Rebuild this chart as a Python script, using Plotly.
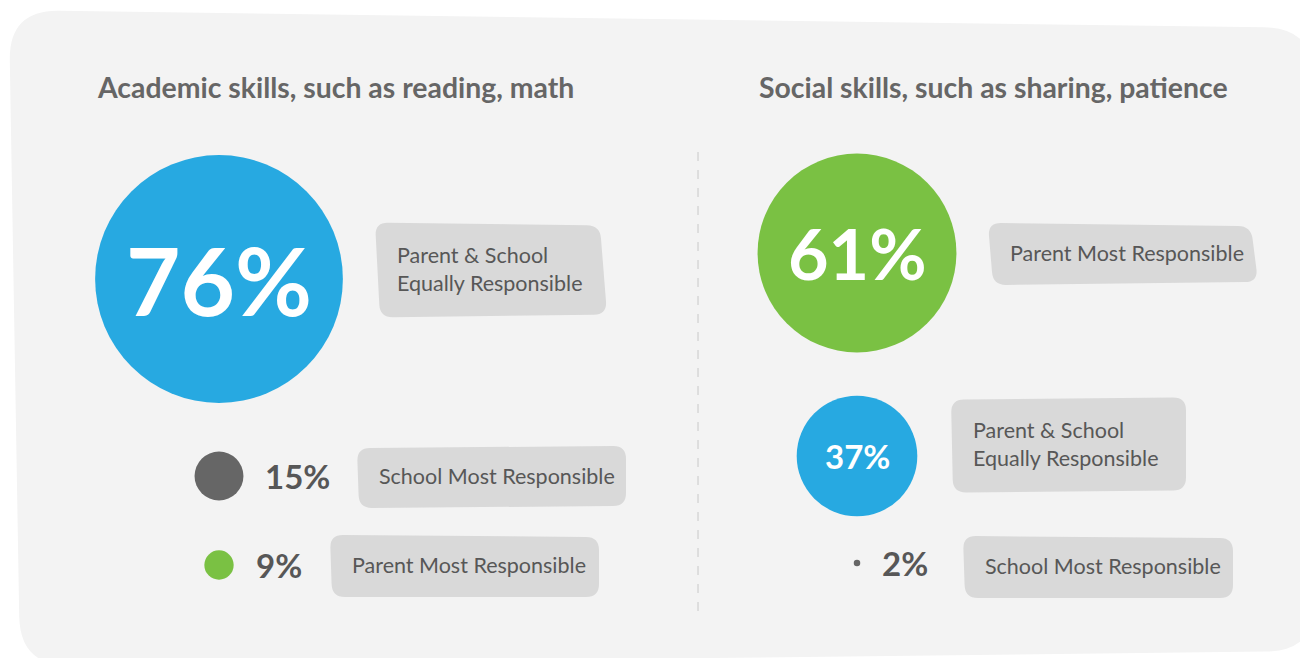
"""Two bubble panels: who is responsible for teaching academic vs social skills."""

import plotly.graph_objects as go

# ── Data ────────────────────────────────────────────────────────────────────
PANEL_TITLES = [
    'Academic skills, such as reading, math',
    'Social skills, such as sharing, patience',
]

academic_labels = [
    'Parent & School<br>Equally Responsible',
    'School Most Responsible',
    'Parent Most Responsible',
]
academic_values = [76, 15, 9]

social_labels = [
    'Parent Most Responsible',
    'Parent & School<br>Equally Responsible',
    'School Most Responsible',
]
social_values = [61, 37, 2]

# ── Style ───────────────────────────────────────────────────────────────────
BLUE = '#27a9e1'
GREEN = '#7ac143'
DARK = '#666666'
TEXT = '#575757'
BOX = '#d9d9d9'
PANEL = '#f3f3f3'
FONT = 'Source Sans Pro, Lato, sans-serif'

academic_colors = [BLUE, DARK, GREEN]
social_colors = [GREEN, BLUE, DARK]

W, H = 1300, 658
PX_PER_PCT = 3.26          # circle diameter per percentage point

# layout of each panel: circle column x, row centres, label box placement
panels = [
    dict(labels=academic_labels, values=academic_values, colors=academic_colors,
         cx=219, rows=[279, 476, 565], box_x=[375, 357, 330], box_dy=[-9, 1, 1],
         box_w=[232, 269, 269], title_x=95),
    dict(labels=social_labels, values=social_values, colors=social_colors,
         cx=857, rows=[253, 456, 563], box_x=[988, 951, 963], box_dy=[1, -11, 4],
         box_w=[270, 235, 270], title_x=757),
]
# small skews so the label boxes look hand-placed
box_jitter = [
    [(0, 0), (-7, 3), (0, -3), (5, 0)],
    [(0, 2), (0, 0), (0, -2), (2, 0)],
    [(0, 0), (0, 2), (0, 0), (2, 0)],
]


def towards(p, q, d):
    dx, dy = q[0] - p[0], q[1] - p[1]
    n = (dx * dx + dy * dy) ** 0.5 or 1
    return (p[0] + dx / n * d, p[1] + dy / n * d)


def rounded_path(pts, r):
    """SVG path for a polygon with rounded corners."""
    corners = []
    n = len(pts)
    for i in range(n):
        p = pts[i]
        corners.append((towards(p, pts[i - 1], r), p, towards(p, pts[(i + 1) % n], r)))
    f = lambda pt: f'{pt[0]:.1f},{pt[1]:.1f}'
    d = f'M {f(corners[0][2])} '
    for a, p, b in corners[1:] + corners[:1]:
        d += f'L {f(a)} Q {f(p)} {f(b)} '
    return d + 'Z'


fig = go.Figure()
shapes = []
annotations = []

# background card
shapes.append(dict(
    type='path', xref='x', yref='y', layer='below', line=dict(width=0),
    fillcolor=PANEL,
    path=rounded_path([(9, 10), (1314, 28), (1316, 651), (20, 666)], 50),
))

# dashed divider
shapes.append(dict(
    type='line', xref='x', yref='y', x0=698, x1=698, y0=152, y1=614,
    line=dict(color='#c8c8c8', width=1, dash='dash'), layer='below',
))

for pi, p in enumerate(panels):
    annotations.append(dict(
        x=p['title_x'], y=87, xref='x', yref='y', xanchor='left', yanchor='middle',
        text=f'<b>{PANEL_TITLES[pi]}</b>', showarrow=False,
        font=dict(family=FONT, size=28.4, color=DARK),
    ))

    sizes = [v * PX_PER_PCT for v in p['values']]
    inside = [v >= 30 for v in p['values']]
    inside_size = [94 if v > 70 else 70 if v > 50 else 33 for v in p['values']]

    fig.add_trace(go.Scatter(
        x=[p['cx']] * 3, y=p['rows'], mode='markers',
        marker=dict(size=sizes, color=p['colors'], line=dict(width=0), opacity=1),
        hoverinfo='skip', showlegend=False,
    ))

    for i, v in enumerate(p['values']):
        if inside[i]:
            annotations.append(dict(
                x=p['cx'], y=p['rows'][i], xref='x', yref='y',
                text=f'<b>{v}%</b>', showarrow=False,
                font=dict(family=FONT, size=inside_size[i], color='white'),
            ))
        else:
            annotations.append(dict(
                x=p['cx'] + sizes[i] / 2 + 20, y=p['rows'][i], xref='x', yref='y',
                xanchor='left', text=f'<b>{v}%</b>', showarrow=False,
                font=dict(family=FONT, size=33, color=TEXT),
            ))

        # label box
        two_line = '<br>' in p['labels'][i]
        bh = 95 if two_line else 62
        yc = p['rows'][i] + p['box_dy'][i]
        x0, y0 = p['box_x'][i], yc - bh / 2
        x1, y1 = x0 + p['box_w'][i], y0 + bh
        j = box_jitter[i]
        pts = [(x0 + j[0][0], y0 + j[0][1]), (x1 + j[1][0], y0 + j[1][1]),
               (x1 + j[2][0], y1 + j[2][1]), (x0 + j[3][0], y1 + j[3][1])]
        shapes.append(dict(
            type='path', xref='x', yref='y', layer='below', line=dict(width=0),
            fillcolor=BOX, path=rounded_path(pts, 13),
        ))
        annotations.append(dict(
            x=x0 + 20, y=yc - 1, xref='x', yref='y',
            xanchor='left', yanchor='middle', align='left',
            text=p['labels'][i], showarrow=False,
            font=dict(family=FONT, size=21.5, color=TEXT),
        ))

fig.update_layout(
    width=W, height=H,
    margin=dict(l=0, r=0, t=0, b=0),
    paper_bgcolor='white', plot_bgcolor='white',
    xaxis=dict(range=[0, W], visible=False, fixedrange=True),
    yaxis=dict(range=[H, 0], visible=False, fixedrange=True),
    shapes=shapes, annotations=annotations,
    showlegend=False,
)

fig.write_html(
    'out.html',
    config={'displayModeBar': False},
    post_script="document.body.style.margin='0';document.body.style.overflow='hidden';",
)
